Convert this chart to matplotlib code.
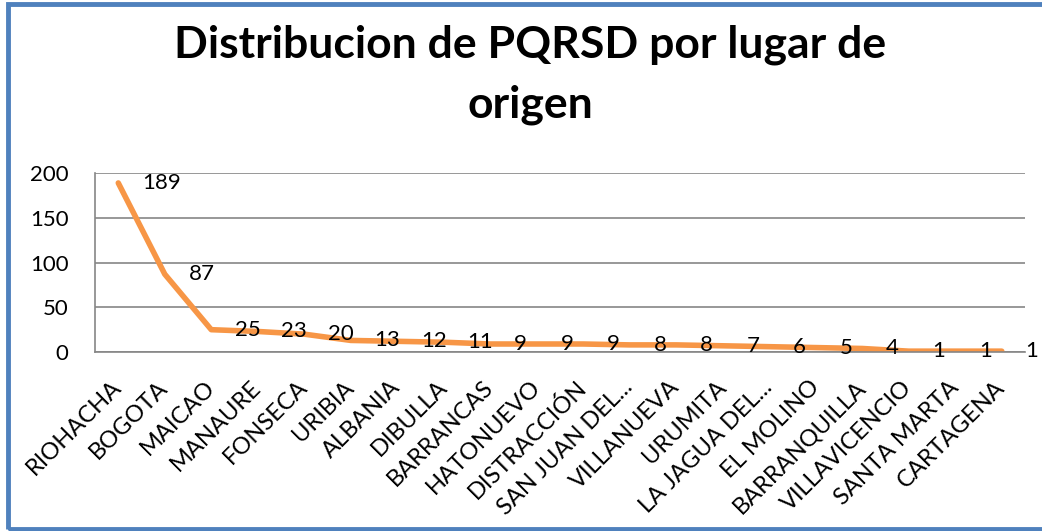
import matplotlib.pyplot as plt
from matplotlib.patches import Rectangle

plt.rcParams["font.family"] = ["Lato", "DejaVu Sans"]

lugares = [
    "RIOHACHA", "BOGOTA", "MAICAO", "MANAURE", "FONSECA", "URIBIA",
    "ALBANIA", "DIBULLA", "BARRANCAS", "HATONUEVO", "DISTRACCIÓN",
    "SAN JUAN DEL...", "VILLANUEVA", "URUMITA", "LA JAGUA DEL...",
    "EL MOLINO", "BARRANQUILLA", "VILLAVICENCIO", "SANTA MARTA", "CARTAGENA",
]
cantidad = [189, 87, 25, 23, 20, 13, 12, 11, 9, 9, 9, 8, 8, 7, 6, 5, 4, 1, 1, 1]
y_ticks = [0, 50, 100, 150, 200]


def main():
    fig = plt.figure(figsize=(10.42, 5.31), dpi=100)
    ax = fig.add_axes([0.0912, 0.337, 0.8925, 0.337])

    x = list(range(len(lugares)))
    ax.plot(x, cantidad, color="#F79646", linewidth=4, solid_capstyle="round")

    for xi, v in zip(x, cantidad):
        ax.annotate(str(v), (xi, v), xytext=(17, 0), textcoords="offset points",
                    ha="left", va="center", fontsize=16, color="black")

    ax.set_xlim(-0.5, len(lugares) - 0.5)
    ax.set_ylim(0, 200)
    ax.set_yticks(y_ticks)
    ax.set_xticks(x)
    ax.set_xticklabels(lugares, rotation=45, ha="right", va="center",
                       rotation_mode="anchor", fontsize=17)
    ax.tick_params(axis="y", length=0, pad=19, labelsize=16)
    ax.tick_params(axis="x", length=0, pad=23)

    ax.grid(axis="y", color="#868686", linewidth=1.2)
    ax.set_axisbelow(True)
    for side in ["top", "right"]:
        ax.spines[side].set_visible(False)
    for side in ["left", "bottom"]:
        ax.spines[side].set_color("#868686")
        ax.spines[side].set_linewidth(1.2)

    fig.text(0.509, 0.891, "Distribucion de PQRSD por lugar de",
             ha="center", va="baseline", fontsize=32, fontweight="bold")
    fig.text(0.509, 0.778, "origen",
             ha="center", va="baseline", fontsize=32, fontweight="bold")

    # blue frame around the chart (right edge is cut off in the original)
    fig.patches.append(Rectangle((0.0072, 0.0045), 1.05, 0.9875,
                                 transform=fig.transFigure, fill=False,
                                 edgecolor="#4F81BD", linewidth=3.5))

    fig.savefig("out.png", dpi=100)


if __name__ == "__main__":
    main()
